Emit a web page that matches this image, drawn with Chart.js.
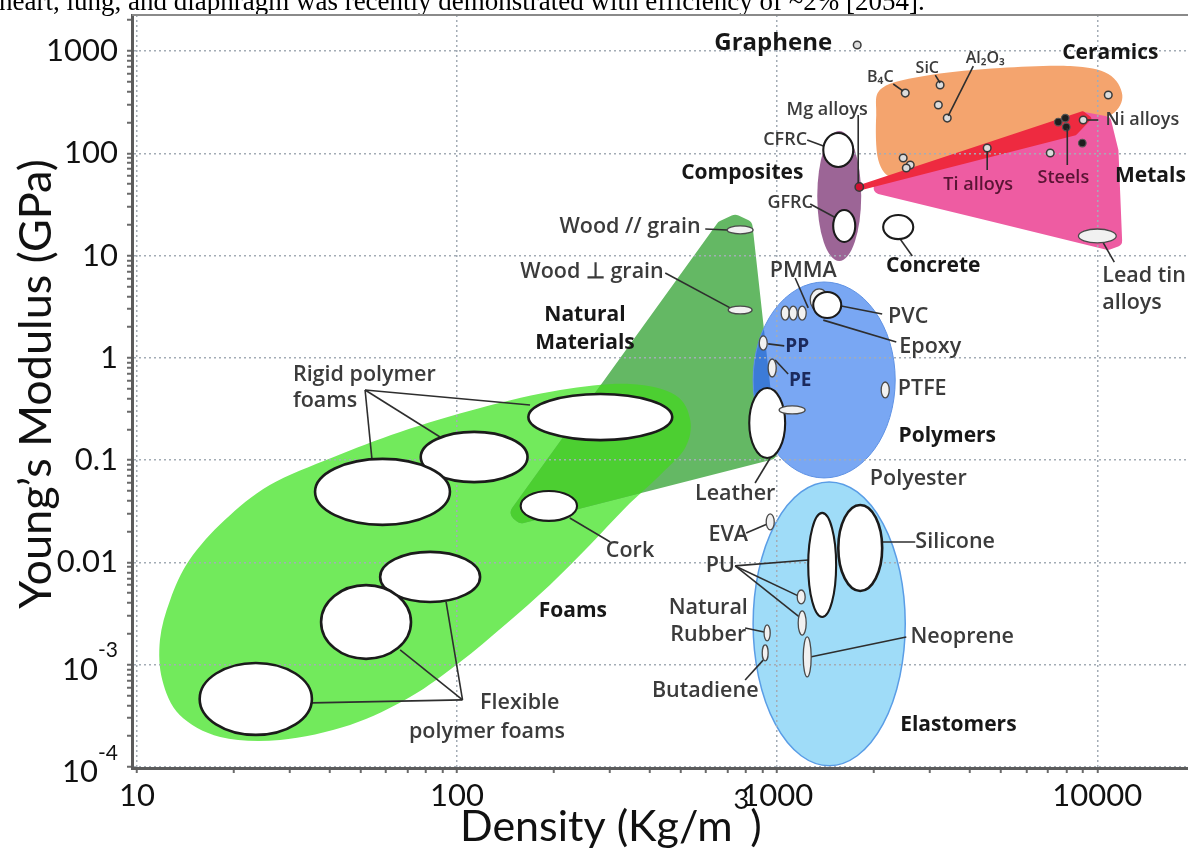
<!DOCTYPE html>
<html><head><meta charset="utf-8">
<script src="https://cdn.jsdelivr.net/npm/chart.js@4.4.1/dist/chart.umd.min.js"></script>
<style>html,body{margin:0;padding:0;background:#fff;overflow:hidden}#wrap{position:relative;width:1188px;height:848px}</style>
</head><body><div id="wrap"><canvas id="c" width="1188" height="848"></canvas></div>
<script>
// ---------- axis ----------
const topSentence = 'heart, lung, and diaphragm was recently demonstrated with efficiency of ~2% [2054].';
const xTitle = ['Density (Kg/m', '3', ')'];
const yTitle = 'Young\u2019s Modulus (GPa)';
const xTickValues = [10, 100, 1000, 10000];
const xTickLabels = ['10', '100', '1000', '10000'];
const yTickValues = [0.0001, 0.001, 0.01, 0.1, 1, 10, 100, 1000];
const yTickLabels = ['10^-4', '10^-3', '0.01', '0.1', '1', '10', '100', '1000'];
const xRange = [9.65, 19200];
const yRange = [0.0000978, 2250];

// ---------- family envelopes ----------
const polymersRange   = [841, 2337, 0.067, 5.52];      // density min,max ; modulus min,max
const elastomersRange = [841, 2512, 0.000103, 0.0612];
const compositesRange = [1334, 1830, 8.85, 165];
const foamsDensity = [11.8, 12.7, 14.6, 18.8, 26.0, 41.0, 66.4, 118, 210, 347, 480, 535, 516, 431, 335, 260, 195, 141, 102, 71.3, 46.3, 28.0, 18.2, 13.6, 12.0];
const foamsModulus = [0.00175, 0.0043, 0.0106, 0.026, 0.0573, 0.107, 0.189, 0.324, 0.485, 0.556, 0.434, 0.247, 0.132, 0.0716, 0.0341, 0.0148, 0.00603, 0.00245, 0.00106, 0.000484, 0.000258, 0.000184, 0.000197, 0.000323, 0.00071];
const naturalDensity = [654, 739, 835, 1007, 157, 144];
const naturalModulus = [21.3, 25.5, 21.3, 0.105, 0.0238, 0.0298];
const metalsDensity = [1791, 9173, 10980, 11640, 11970, 10820];
const metalsModulus = [44.8, 253, 226, 107.7, 12.7, 11.3];
const steelBandDensity = [1791, 9036, 9646, 8597, 1791];
const steelBandModulus = [48.5, 259, 221, 151, 42.8];
const ceramicsDensity = [2128, 3006, 4977, 8236, 10820, 11970, 11140, 8851, 4630, 2799, 2304, 2069, 2039];
const ceramicsModulus = [435, 582, 682, 713, 596, 371, 242, 202, 120.5, 71.8, 57.4, 86, 237];

// ---------- material bubbles ----------
const bubbleNames = ['Rigid foam 1','Rigid foam 2','Rigid foam 3','Cork','Flexible foam 1','Flexible foam 2','Flexible foam 3','Wood // grain','Wood \u22a5 grain','Leather','Leather 2','PMMA 1','PMMA 2','PMMA 3','PVC 1','PVC 2','PP','PE','PTFE','Silicone','PU 1','PU 2','PU 3','Neoprene','EVA','Natural rubber','Butadiene','CFRC','GFRC','Concrete','Lead tin alloys'];
const bubbleDensityMin = [167, 77, 36, 158, 57.5, 37.6, 15.7, 698, 703, 818, 1014, 1029, 1090, 1163, 1268, 1296, 879, 937, 2113, 1552, 1250, 1155, 1163, 1206, 924, 910, 898, 1393, 1496, 2143, 8730];
const bubbleDensityMax = [470, 166, 95, 237, 118, 71.8, 35.2, 841, 835, 1059, 1223, 1090, 1155, 1232, 1443, 1585, 931, 993, 2239, 2128, 1528, 1223, 1232, 1277, 979, 951, 937, 1728, 1753, 2661, 11460];
const bubbleModulusMin = [0.157, 0.061, 0.0233, 0.0255, 0.0041, 0.00114, 0.000206, 16.3, 2.69, 0.105, 0.283, 2.34, 2.34, 2.34, 2.87, 2.45, 1.19, 0.65, 0.406, 0.00526, 0.00293, 0.00393, 0.00195, 0.00076, 0.0208, 0.00171, 0.00109, 73.5, 13.6, 14.5, 13.3];
const bubbleModulusMax = [0.444, 0.189, 0.103, 0.05, 0.0127, 0.0060, 0.00104, 19.5, 3.21, 0.508, 0.339, 3.21, 3.21, 3.21, 4.72, 4.41, 1.64, 0.975, 0.581, 0.0365, 0.0305, 0.00538, 0.00336, 0.00187, 0.0298, 0.00245, 0.00156, 158, 27.9, 24.9, 18.2];

// ---------- small point markers ----------
const lightDotDensity = [1778, 2512, 3228, 3187, 3398, 10820, 9036, 7129, 4529, 2475, 2604, 2531];
const lightDotModulus = [1145, 388, 465.6, 296.6, 221, 371, 211.6, 100.7, 112.7, 89.9, 76.9, 71.8];
const darkDotDensity = [7551, 7943, 8000, 8977];
const darkDotModulus = [202, 221, 180.7, 126];
const mgDotDensity = [1805];
const mgDotModulus = [46.8];

// ---------- leader lines ----------
const leaderDensityFrom = [51.6, 51.6, 51.6, 225, 104, 104, 104, 596, 447, 951, 1791, 1241, 1268, 2421, 2304, 3118, 4098, 10070, 8058, 4529, 10440, 1138, 1585, 1393, 937, 985, 800, 739, 739, 739, 794, 794, 2128, 1268];
const leaderModulusFrom = [0.485, 0.485, 0.485, 0.0272, 0.000453, 0.000453, 0.000453, 18.2, 6.76, 0.105, 237, 135, 31.9, 14.5, 476, 582, 713, 211.6, 176.8, 105.3, 13.3, 6.04, 3.21, 2.34, 1.37, 0.954, 0.0194, 0.00925, 0.00925, 0.00925, 0.00229, 0.00071, 0.01585, 0.00119];
const leaderDensityTo = [54.2, 88.5, 169, 301, 35.2, 66.4, 92.4, 698, 713, 853, 1791, 1422, 1528, 2642, 2475, 3228, 3422, 9305, 8058, 4529, 11300, 1250, 2128, 2355, 1052, 1082, 931, 1250, 1163, 1172, 910, 904, 2700, 2531];
const leaderModulusTo = [0.1028, 0.1686, 0.3467, 0.01585, 0.000424, 0.0014, 0.00411, 17.8, 3.08, 0.0598, 51.3, 115, 23.3, 9.91, 406, 487, 232, 211.6, 76.9, 68.7, 8.65, 3.08, 2.69, 1.43, 1.31, 0.696, 0.0238, 0.01057, 0.00471, 0.00293, 0.00209, 0.00111, 0.01585, 0.00187];

// ---------- text labels ----------
const labelText = ['Graphene','Ceramics','B\u2084C','SiC','Al\u2082O\u2083','Mg alloys','CFRC','Composites','GFRC','Concrete','Ni alloys','Ti alloys','Steels','Metals','Lead tin','alloys','Wood // grain','Wood \u22a5 grain','Natural','Materials','PMMA','PVC','Epoxy','PP','PE','PTFE','Polymers','Polyester','Leather','EVA','Silicone','PU','Natural','Rubber','Neoprene','Butadiene','Elastomers','Rigid polymer','foams','Cork','Foams','Flexible','polymer foams'];
const labelDensity = [972, 10980, 2099, 2944, 4467, 1432, 1059, 778, 1098, 3073, 13830, 4246, 7834, 14650, 10360, 10360, 347, 264, 251, 251, 1206, 2566, 3006, 1155, 1180, 2838, 3398, 2758, 739, 703, 3597, 664, 609, 609, 3784, 596, 3681, 30.7, 30.7, 347, 230, 157, 124];
const labelModulus = [1197, 955, 557, 682, 854, 265, 135, 64.2, 32.7, 7.91, 211.6, 49.0, 57.4, 60.0, 6.32, 3.44, 19.0, 6.91, 2.63, 1.40, 7.07, 2.51, 1.28, 1.28, 0.594, 0.497, 0.1725, 0.0655, 0.0468, 0.0186, 0.01585, 0.00925, 0.00359, 0.00195, 0.00187, 0.000555, 0.000258, 0.681, 0.379, 0.01295, 0.00336, 0.000424, 0.000220];
const labelKind = ['big','bold','tiny','tiny','tiny','small','small','bold','small','bold','small','metal','metal','bold','regL','regL','reg','reg','bold','bold','reg','reg','reg','poly','poly','reg','bold','reg','reg','reg','reg','reg','reg','reg','reg','reg','bold','regL','regL','reg','bold','reg','reg'];

// ---------- styles ----------
const labelStyles = {
  big:   {font: '700 24px "Open Sans"', color: '#171717', align: 'center'},
  bold:  {font: '700 21px "Open Sans"', color: '#171717', align: 'center'},
  reg:   {font: '600 21.5px "Open Sans"', color: '#3b3b3b', align: 'center'},
  regL:  {font: '600 21.5px "Open Sans"', color: '#3b3b3b', align: 'left'},
  small: {font: '600 18px "Open Sans"', color: '#3b3b3b', align: 'center'},
  tiny:  {font: '600 16px "Open Sans"', color: '#3b3b3b', align: 'center'},
  metal: {font: '600 18px "Open Sans"', color: '#5a1434', align: 'center'},
  poly:  {font: '700 19px "Open Sans"', color: '#1c2a5c', align: 'center'}
};
const C = {
  foams: '#72ea5c', natural: '#64b864', naturalOverFoams: '#4ccf31',
  polymers: '#79a7f3', polymersOverNatural: '#3c7bd8', polymersEdge: '#5f92e4',
  elastomers: '#9fdcf8', elastomersEdge: '#5a9de6',
  composites: '#9c6596', ceramics: '#f4a46e', metals: '#ee5ca2', band: '#ee2a40',
  grid: '#a3acb5', axis: '#5c5c5c', tick: '#111'
};

function decadeTicks(majors, lo, hi) {
  const out = [];
  majors.forEach(d => { for (let k = 1; k < 10; k++) { const v = k * d; if (v >= lo && v <= hi) out.push({value: v, major: k === 1}); } });
  const last = majors[majors.length - 1] * 10;
  if (last <= hi) out.push({value: last, major: true});
  return out;
}
function majorIndex(vals, v) {
  for (let i = 0; i < vals.length; i++) if (Math.abs(Math.log10(vals[i]) - Math.log10(v)) < 1e-6) return i;
  return -1;
}
function smoothPath(pts) {
  const p = new Path2D(), n = pts.length;
  p.moveTo(pts[0][0], pts[0][1]);
  for (let i = 0; i < n; i++) {
    const p0 = pts[(i - 1 + n) % n], p1 = pts[i], p2 = pts[(i + 1) % n], p3 = pts[(i + 2) % n];
    p.bezierCurveTo(p1[0] + (p2[0] - p0[0]) / 6, p1[1] + (p2[1] - p0[1]) / 6,
                    p2[0] - (p3[0] - p1[0]) / 6, p2[1] - (p3[1] - p1[1]) / 6, p2[0], p2[1]);
  }
  p.closePath();
  return p;
}
function roundPoly(pts, r) {
  const p = new Path2D(), n = pts.length;
  const mid = (a, b) => [(a[0] + b[0]) / 2, (a[1] + b[1]) / 2];
  const m = mid(pts[n - 1], pts[0]);
  p.moveTo(m[0], m[1]);
  for (let i = 0; i < n; i++) {
    const c = pts[i], mm = mid(c, pts[(i + 1) % n]);
    p.arcTo(c[0], c[1], mm[0], mm[1], r);
  }
  p.closePath();
  return p;
}
function rangeEllipse(X, Y, r) {
  const x0 = X(r[0]), x1 = X(r[1]), y0 = Y(r[2]), y1 = Y(r[3]);
  const p = new Path2D();
  p.ellipse((x0 + x1) / 2, (y0 + y1) / 2, Math.abs(x1 - x0) / 2, Math.abs(y1 - y0) / 2, 0, 0, Math.PI * 2);
  return p;
}

const ashbyPlugin = {
  id: 'ashby',
  beforeDraw(chart) {
    const ctx = chart.ctx, a = chart.chartArea;
    const X = v => chart.scales.x.getPixelForValue(v), Y = v => chart.scales.y.getPixelForValue(v);
    // cut-off sentence of the surrounding document
    ctx.save();
    ctx.fillStyle = '#000'; ctx.font = '27px "Liberation Serif"'; ctx.textBaseline = 'alphabetic'; ctx.textAlign = 'left';
    ctx.fillText(topSentence, -1, 10);
    ctx.restore();

    ctx.save();
    ctx.beginPath(); ctx.rect(a.left, a.top, a.right - a.left, a.bottom - a.top); ctx.clip();
    const foams = smoothPath(foamsDensity.map((d, i) => [X(d), Y(foamsModulus[i])]));
    const natural = roundPoly(naturalDensity.map((d, i) => [X(d), Y(naturalModulus[i])]), 8);
    const polymers = rangeEllipse(X, Y, polymersRange);
    const elast = rangeEllipse(X, Y, elastomersRange);
    const comps = rangeEllipse(X, Y, compositesRange);
    const ceram = smoothPath(ceramicsDensity.map((d, i) => [X(d), Y(ceramicsModulus[i])]));
    const metals = roundPoly(metalsDensity.map((d, i) => [X(d), Y(metalsModulus[i])]), 6);
    const band = roundPoly(steelBandDensity.map((d, i) => [X(d), Y(steelBandModulus[i])]), 2);

    ctx.fillStyle = C.foams; ctx.fill(foams);
    ctx.fillStyle = C.natural; ctx.fill(natural);
    ctx.save(); ctx.clip(foams); ctx.fillStyle = C.naturalOverFoams; ctx.fill(natural); ctx.restore();
    ctx.fillStyle = C.polymers; ctx.fill(polymers);
    ctx.save(); ctx.clip(natural); ctx.fillStyle = C.polymersOverNatural; ctx.fill(polymers); ctx.restore();
    ctx.lineWidth = 1; ctx.strokeStyle = C.polymersEdge; ctx.stroke(polymers);
    ctx.fillStyle = C.elastomers; ctx.fill(elast);
    ctx.lineWidth = 1.5; ctx.strokeStyle = C.elastomersEdge; ctx.stroke(elast);
    ctx.fillStyle = C.composites; ctx.fill(comps);
    ctx.fillStyle = C.ceramics; ctx.fill(ceram);
    ctx.fillStyle = C.metals; ctx.fill(metals);
    ctx.fillStyle = C.band; ctx.fill(band);
    ctx.restore();
  },
  afterDatasetsDraw(chart) {
    const ctx = chart.ctx, a = chart.chartArea;
    const X = v => chart.scales.x.getPixelForValue(v), Y = v => chart.scales.y.getPixelForValue(v);
    // material bubbles
    bubbleNames.forEach((n, i) => {
      const x0 = X(bubbleDensityMin[i]), x1 = X(bubbleDensityMax[i]);
      const y0 = Y(bubbleModulusMin[i]), y1 = Y(bubbleModulusMax[i]);
      const rx = Math.abs(x1 - x0) / 2, ry = Math.abs(y1 - y0) / 2, r = Math.min(rx, ry);
      ctx.beginPath();
      ctx.ellipse((x0 + x1) / 2, (y0 + y1) / 2, rx, ry, 0, 0, Math.PI * 2);
      ctx.fillStyle = r > 9 ? '#fff' : '#f1f1f1'; ctx.fill();
      ctx.lineWidth = r > 20 ? 2.6 : (r > 9 ? 2.1 : 1.3);
      ctx.strokeStyle = r > 9 ? '#1b1b1b' : '#4a4a4a'; ctx.stroke();
    });
    // labels
    labelText.forEach((t, i) => {
      const s = labelStyles[labelKind[i]];
      ctx.font = s.font; ctx.fillStyle = s.color; ctx.textAlign = s.align; ctx.textBaseline = 'middle';
      ctx.fillText(t, X(labelDensity[i]), Y(labelModulus[i]));
    });
    // superscripted tick labels
    const ys = chart.scales.y;
    yTickLabels.forEach((lab, i) => {
      if (lab.indexOf('^') < 0) return;
      const [base, exp] = lab.split('^');
      const y = ys.getPixelForValue(yTickValues[i]);
      const right = ys.right - 14;
      ctx.textBaseline = 'middle'; ctx.textAlign = 'left'; ctx.fillStyle = C.tick;
      ctx.font = '21px Lato'; const we = ctx.measureText(exp).width;
      ctx.font = '31px Lato'; const wb = ctx.measureText(base).width;
      ctx.fillText(base, right - we - wb, y + 5);
      ctx.font = '21px Lato'; ctx.fillText(exp, right - we, y - 14);
    });
    // axis titles
    ctx.save();
    ctx.fillStyle = '#111'; ctx.textBaseline = 'alphabetic'; ctx.textAlign = 'left';
    ctx.font = '43px Lato'; const w1 = ctx.measureText(xTitle[0]).width;
    ctx.font = '27px Lato'; const w2 = ctx.measureText(xTitle[1]).width;
    const xs0 = a.left + 328;
    ctx.font = '43px Lato'; ctx.fillText(xTitle[0], xs0, 841);
    ctx.font = '27px Lato'; ctx.fillText(xTitle[1], xs0 + w1 + 1, 809);
    ctx.font = '43px Lato'; ctx.fillText(xTitle[2], xs0 + w1 + w2 + 2, 841);
    ctx.translate(51, 384); ctx.rotate(-Math.PI / 2);
    ctx.textAlign = 'center'; ctx.font = '45px Lato';
    ctx.fillText(yTitle, 0, 0);
    ctx.restore();
    // top frame
    ctx.save(); ctx.strokeStyle = '#8a8a8a'; ctx.lineWidth = 2;
    ctx.beginPath(); ctx.moveTo(a.left, a.top); ctx.lineTo(a.right, a.top); ctx.stroke(); ctx.restore();
  }
};

function gridColor(c) { return c.tick && c.tick.major ? C.grid : 'rgba(0,0,0,0)'; }

function makeChart() {
  const leaders = leaderDensityFrom.map((d, i) => ({
    data: [{x: d, y: leaderModulusFrom[i]}, {x: leaderDensityTo[i], y: leaderModulusTo[i]}],
    showLine: true, borderColor: '#2e2e2e', borderWidth: 1.6, pointRadius: 0, fill: false
  }));
  const dots = [
    {data: lightDotDensity.map((d, i) => ({x: d, y: lightDotModulus[i]})), pointRadius: 3.8, pointBackgroundColor: '#dcdcdc', pointBorderColor: '#3a3a3a', pointBorderWidth: 1.5, showLine: false},
    {data: darkDotDensity.map((d, i) => ({x: d, y: darkDotModulus[i]})), pointRadius: 3.8, pointBackgroundColor: '#1e1e1e', pointBorderColor: '#555', pointBorderWidth: 1.2, showLine: false},
    {data: mgDotDensity.map((d, i) => ({x: d, y: mgDotModulus[i]})), pointRadius: 4.2, pointBackgroundColor: '#d01030', pointBorderColor: '#3a3a3a', pointBorderWidth: 1.5, showLine: false}
  ];
  const noPad = s => { s.paddingTop = 0; s.paddingBottom = 0; s.paddingLeft = 0; s.paddingRight = 0; };
  new Chart(document.getElementById('c'), {
    type: 'scatter',
    data: {datasets: leaders.concat(dots)},
    options: {
      responsive: false, animation: false, devicePixelRatio: 1,
      layout: {padding: {top: 15, left: 0, right: 0, bottom: 0}, autoPadding: false},
      plugins: {legend: {display: false}, tooltip: {enabled: false}},
      scales: {
        x: {
          type: 'logarithmic', min: xRange[0], max: xRange[1],
          afterBuildTicks: s => { s.ticks = decadeTicks(xTickValues, xRange[0], xRange[1]); },
          afterFit: s => { s.height = 80; noPad(s); },
          ticks: {autoSkip: false, maxRotation: 0, padding: 4, color: C.tick, font: {family: 'Lato', size: 31},
            callback: v => { const i = majorIndex(xTickValues, v); return i >= 0 ? xTickLabels[i] : ''; }},
          grid: {color: gridColor, lineWidth: 1.5, tickLength: 5, tickWidth: 2, tickColor: '#6a6a6a'},
          border: {display: true, color: C.axis, width: 3, dash: [2, 3]}
        },
        y: {
          type: 'logarithmic', min: yRange[0], max: yRange[1],
          afterBuildTicks: s => { s.ticks = decadeTicks(yTickValues, yRange[0], yRange[1]); },
          afterFit: s => { s.width = 132; noPad(s); },
          ticks: {autoSkip: false, padding: 9, color: C.tick, font: {family: 'Lato', size: 31},
            callback: v => { const i = majorIndex(yTickValues, v); return (i >= 0 && yTickLabels[i].indexOf('^') < 0) ? yTickLabels[i] : ''; }},
          grid: {color: gridColor, lineWidth: 1.5, tickLength: 5, tickWidth: 2, tickColor: '#6a6a6a'},
          border: {display: true, color: C.axis, width: 3, dash: [2, 3]}
        }
      }
    },
    plugins: [ashbyPlugin]
  });
}
const fontLoads = ['31px Lato', '700 21px "Open Sans"', '600 19px "Open Sans"', '27px "Liberation Serif"'].map(f => document.fonts.load(f).catch(() => null));
Promise.all(fontLoads).then(makeChart, makeChart);
</script></body></html>
